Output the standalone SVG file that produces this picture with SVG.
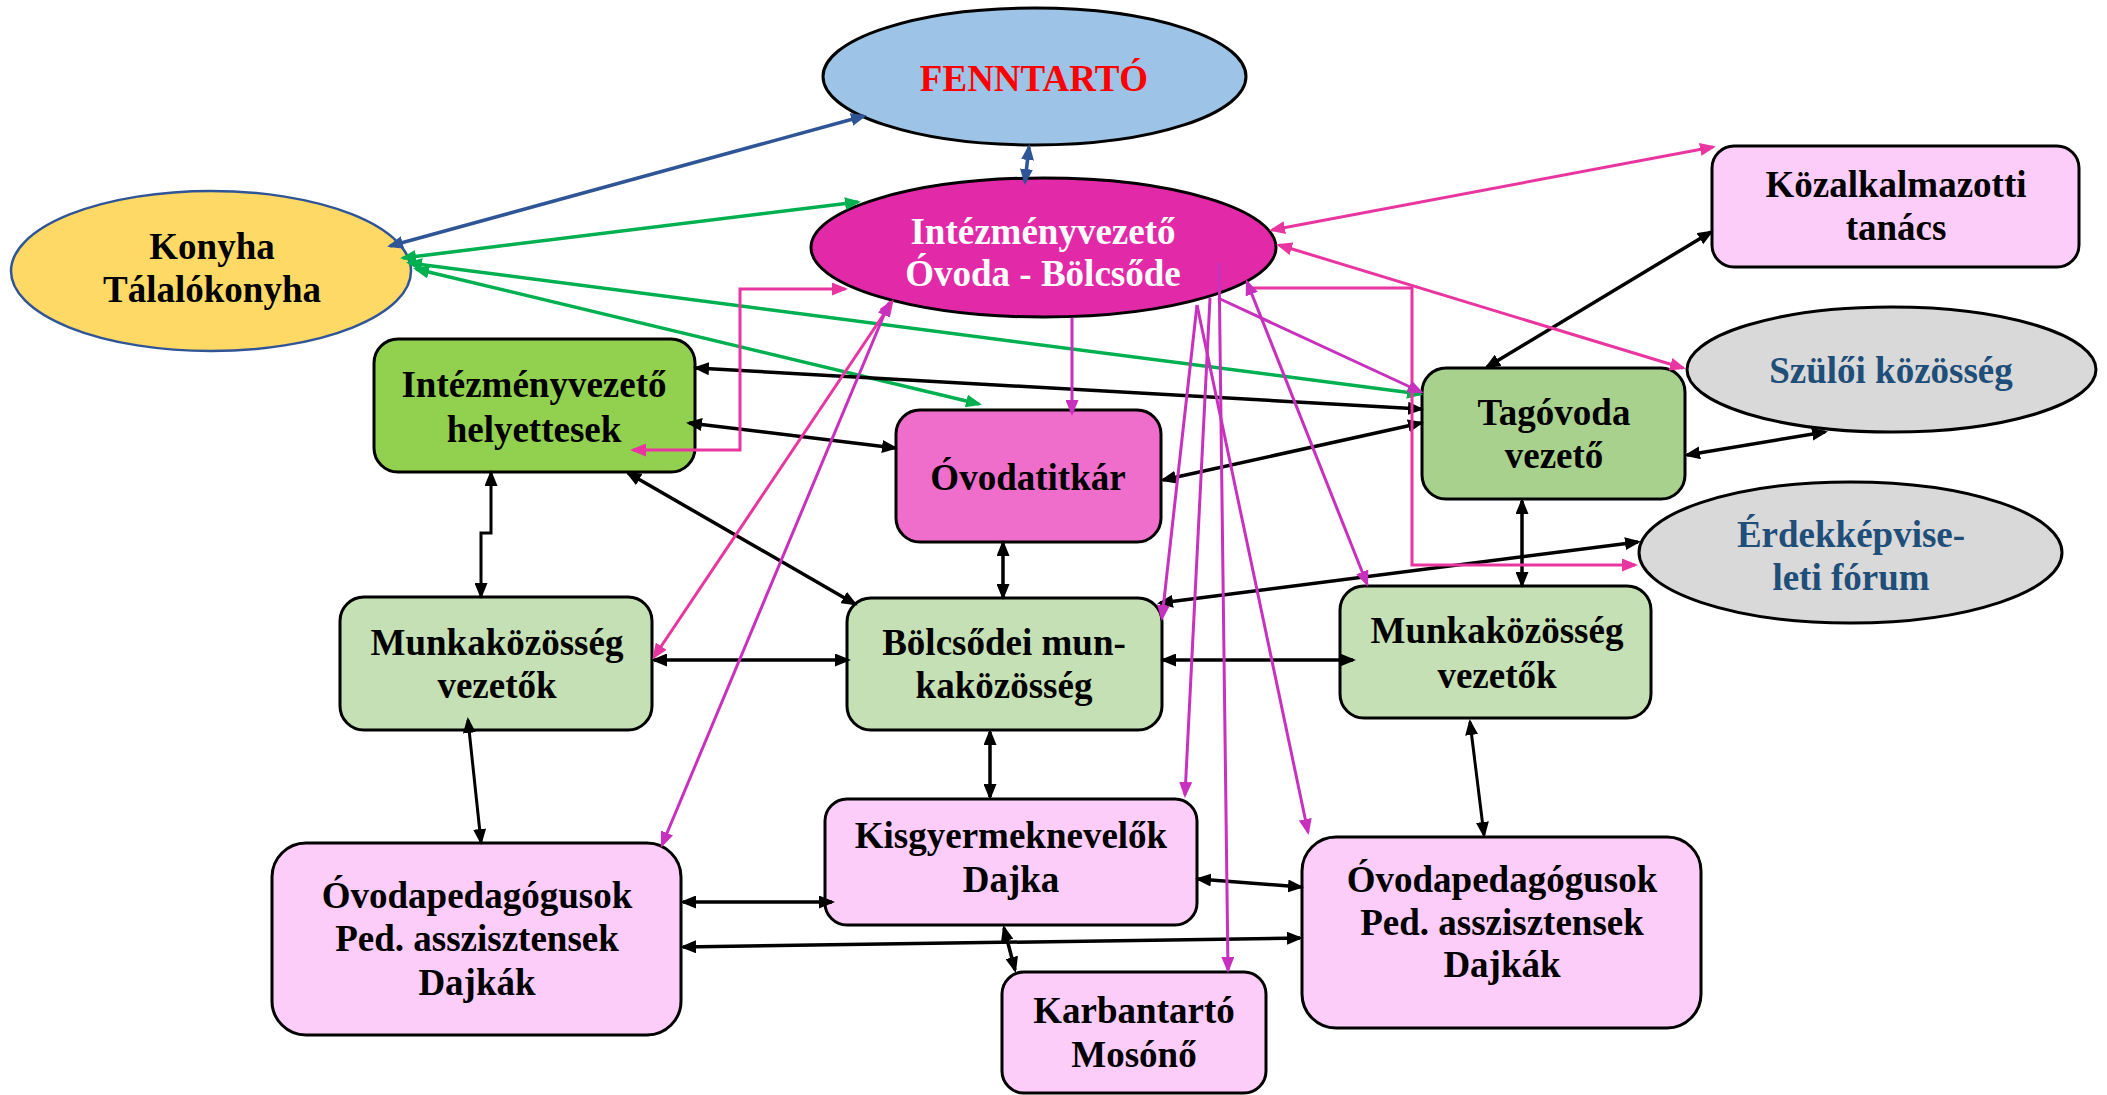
<svg xmlns="http://www.w3.org/2000/svg" width="2107" height="1095" viewBox="0 0 2107 1095">
<style>
.t{font-family:"Liberation Serif","Times New Roman",serif;font-weight:bold;font-size:37px;text-anchor:middle;fill:#000}
.w{fill:#fff}
.r{fill:#ff0000}
.b{fill:#1f4e79}
.n{stroke:#000;stroke-width:3}
.c{fill:none}
.k{stroke:#000;stroke-width:3.5;marker-start:url(#ak);marker-end:url(#ak)}
.bl{stroke:#2f5597;stroke-width:3.5;marker-start:url(#ab);marker-end:url(#ab)}
.g{stroke:#00b050;stroke-width:3.5;marker-start:url(#ag);marker-end:url(#ag)}
.p{stroke:#e8359f;stroke-width:3}
.m{stroke:#c830be;stroke-width:3}
</style>
<defs>
<marker id="ak" viewBox="0 0 16 13" refX="13" refY="6.5" markerWidth="16" markerHeight="13" markerUnits="userSpaceOnUse" orient="auto-start-reverse"><path d="M0,0 L16,6.5 L0,13 z" fill="#000"/></marker>
<marker id="ab" viewBox="0 0 16 13" refX="13" refY="6.5" markerWidth="16" markerHeight="13" markerUnits="userSpaceOnUse" orient="auto-start-reverse"><path d="M0,0 L16,6.5 L0,13 z" fill="#2f5597"/></marker>
<marker id="ag" viewBox="0 0 16 13" refX="13" refY="6.5" markerWidth="16" markerHeight="13" markerUnits="userSpaceOnUse" orient="auto-start-reverse"><path d="M0,0 L16,6.5 L0,13 z" fill="#00b050"/></marker>
<marker id="ap" viewBox="0 0 16 13" refX="13" refY="6.5" markerWidth="16" markerHeight="13" markerUnits="userSpaceOnUse" orient="auto-start-reverse"><path d="M0,0 L16,6.5 L0,13 z" fill="#e8359f"/></marker>
<marker id="am" viewBox="0 0 16 13" refX="13" refY="6.5" markerWidth="16" markerHeight="13" markerUnits="userSpaceOnUse" orient="auto-start-reverse"><path d="M0,0 L16,6.5 L0,13 z" fill="#c830be"/></marker>
</defs>
<rect width="2107" height="1095" fill="#fff"/>

<g id="fenntarto">
<ellipse cx="1034.5" cy="76.5" rx="211.5" ry="68.5" fill="#9dc3e6" class="n"/>
<text class="t r" x="1034" y="91">FENNTARTÓ</text>
</g>
<g id="intezmenyvezeto">
<ellipse cx="1043.5" cy="247.5" rx="232.5" ry="69.5" fill="#e229a8" class="n"/>
<text class="t w" x="1043" y="244">Intézményvezető</text>
<text class="t w" x="1043" y="286">Óvoda - Bölcsőde</text>
</g>
<g id="konyha">
<ellipse cx="211" cy="271" rx="200" ry="80" fill="#ffd966" stroke="#2f5597" stroke-width="2.5"/>
<text class="t" x="212" y="259">Konyha</text>
<text class="t" x="212" y="302">Tálalókonyha</text>
</g>
<g id="helyettesek">
<rect x="374" y="339" width="321" height="133" rx="24" fill="#92d050" class="n"/>
<text class="t" x="534" y="397">Intézményvezető</text>
<text class="t" x="534" y="442">helyettesek</text>
</g>
<g id="ovodatitkar">
<rect x="896" y="410" width="265" height="132" rx="24" fill="#f06ecb" class="n"/>
<text class="t" x="1028" y="490">Óvodatitkár</text>
</g>
<g id="tagovoda">
<rect x="1422" y="368" width="263" height="131" rx="24" fill="#a9d18e" class="n"/>
<text class="t" x="1554" y="425">Tagóvoda</text>
<text class="t" x="1554" y="468">vezető</text>
</g>
<g id="kozalkalmazotti">
<rect x="1712" y="146" width="367" height="121" rx="22" fill="#fccdf8" class="n"/>
<text class="t" x="1896" y="197">Közalkalmazotti</text>
<text class="t" x="1896" y="240">tanács</text>
</g>
<g id="szuloi">
<ellipse cx="1891.5" cy="369.5" rx="204.5" ry="62.5" fill="#d9d9d9" class="n"/>
<text class="t b" x="1891" y="383">Szülői közösség</text>
</g>
<g id="erdekkepviseleti">
<ellipse cx="1850.5" cy="552.5" rx="211.5" ry="70.5" fill="#d9d9d9" class="n"/>
<text class="t b" x="1851" y="547">Érdekképvise-</text>
<text class="t b" x="1851" y="590">leti fórum</text>
</g>
<g id="munkakozosseg-bal">
<rect x="340" y="597" width="312" height="133" rx="24" fill="#c5e0b4" class="n"/>
<text class="t" x="497" y="655">Munkaközösség</text>
<text class="t" x="497" y="698">vezetők</text>
</g>
<g id="bolcsodei">
<rect x="847" y="598" width="315" height="132" rx="24" fill="#c5e0b4" class="n"/>
<text class="t" x="1004" y="655">Bölcsődei mun-</text>
<text class="t" x="1004" y="698">kaközösség</text>
</g>
<g id="munkakozosseg-jobb">
<rect x="1340" y="586" width="311" height="132" rx="24" fill="#c5e0b4" class="n"/>
<text class="t" x="1497" y="643">Munkaközösség</text>
<text class="t" x="1497" y="688">vezetők</text>
</g>
<g id="ovodapedagogusok-bal">
<rect x="272" y="843" width="409" height="192" rx="34" fill="#fccdf8" class="n"/>
<text class="t" x="477" y="908">Óvodapedagógusok</text>
<text class="t" x="477" y="951">Ped. asszisztensek</text>
<text class="t" x="477" y="995">Dajkák</text>
</g>
<g id="kisgyermeknevelok">
<rect x="825" y="799" width="372" height="126" rx="22" fill="#fccdf8" class="n"/>
<text class="t" x="1011" y="848">Kisgyermeknevelők</text>
<text class="t" x="1011" y="892">Dajka</text>
</g>
<g id="karbantarto">
<rect x="1002" y="972" width="264" height="121" rx="22" fill="#fccdf8" class="n"/>
<text class="t" x="1134" y="1023">Karbantartó</text>
<text class="t" x="1134" y="1067">Mosónő</text>
</g>
<g id="ovodapedagogusok-jobb">
<rect x="1302" y="837" width="399" height="191" rx="34" fill="#fccdf8" class="n"/>
<text class="t" x="1502" y="892">Óvodapedagógusok</text>
<text class="t" x="1502" y="935">Ped. asszisztensek</text>
<text class="t" x="1502" y="977">Dajkák</text>
</g>

<g id="connectors" class="c">
<line class="bl" x1="390" y1="246" x2="864" y2="116"/>
<line class="bl" x1="1029" y1="147" x2="1025" y2="182"/>
<line class="g" x1="403" y1="258" x2="858" y2="202"/>
<line class="g" x1="409" y1="263" x2="1420" y2="394"/>
<line class="g" x1="416" y1="269" x2="979" y2="404"/>
<line class="k" x1="696" y1="368" x2="1421" y2="409"/>
<line class="k" x1="689" y1="423" x2="895" y2="448"/>
<line class="k" x1="1421" y1="423" x2="1163" y2="480"/>
<line class="k" x1="1711" y1="232" x2="1487" y2="367"/>
<line class="k" x1="1687" y1="455" x2="1825" y2="432"/>
<line class="k" x1="1522" y1="501" x2="1522" y2="585"/>
<line class="k" x1="1638" y1="542" x2="1160" y2="603"/>
<line class="k" x1="1163" y1="660" x2="1353" y2="660"/>
<polyline class="k" style="stroke-width:3" points="491,473 491,533 481,533 481,596"/>
<line class="k" x1="628" y1="473" x2="855" y2="604"/>
<line class="k" x1="1003" y1="543" x2="1003" y2="597"/>
<line class="k" x1="654" y1="660" x2="848" y2="660"/>
<line class="k" style="stroke-width:3" x1="468" y1="720" x2="481" y2="842"/>
<line class="k" x1="990" y1="732" x2="990" y2="797"/>
<line class="k" x1="683" y1="902" x2="832" y2="902"/>
<line class="k" x1="683" y1="947" x2="1300" y2="938"/>
<line class="k" x1="1198" y1="879" x2="1301" y2="887"/>
<line class="k" x1="1004" y1="928" x2="1015" y2="970"/>
<line class="k" style="stroke-width:3" x1="1470" y1="722" x2="1484" y2="835"/>
<line class="p" marker-start="url(#ap)" marker-end="url(#ap)" x1="1272" y1="230" x2="1713" y2="147"/>
<line class="p" marker-start="url(#ap)" marker-end="url(#ap)" x1="1279" y1="245" x2="1683" y2="368"/>
<polyline class="p" marker-end="url(#ap)" points="1250,288 1412,288 1412,565 1635,565"/>
<polyline class="p" marker-start="url(#ap)" marker-end="url(#ap)" points="845,289 740,289 740,450 633,450"/>
<line class="p" marker-start="url(#ap)" marker-end="url(#ap)" x1="892" y1="302" x2="654" y2="657"/>
<line class="m" marker-end="url(#am)" x1="1072" y1="318" x2="1072" y2="413"/>
<line class="m" marker-start="url(#am)" marker-end="url(#am)" x1="889" y1="303" x2="662" y2="845"/>
<line class="m" marker-end="url(#am)" x1="1197" y1="305" x2="1162" y2="618"/>
<line class="m" marker-end="url(#am)" x1="1210" y1="298" x2="1185" y2="795"/>
<line class="m" marker-end="url(#am)" x1="1197" y1="305" x2="1308" y2="832"/>
<line class="m" marker-end="url(#am)" x1="1219" y1="263" x2="1228" y2="970"/>
<line class="m" marker-end="url(#am)" x1="1218" y1="298" x2="1421" y2="392"/>
<line class="m" marker-start="url(#am)" marker-end="url(#am)" x1="1247" y1="282" x2="1367" y2="584"/>
</g>
</svg>
